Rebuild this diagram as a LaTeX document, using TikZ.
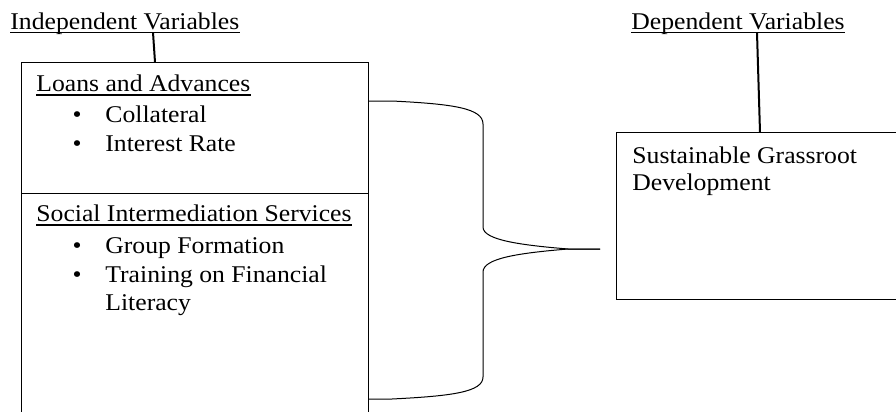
\documentclass[tikz,border=0pt]{standalone}
\usepackage{fontspec}
\setmainfont[FakeStretch=1.07]{Liberation Serif}
\usetikzlibrary{calc}

\begin{document}
\begin{tikzpicture}[x=0.5pt,y=-0.5pt,
  txt/.style={anchor=base west,inner sep=0pt,font=\fontsize{12}{14}\selectfont},
  dot/.style={txt,anchor=base},
  panel/.style={draw,line width=0.5pt,rectangle,inner sep=0pt,anchor=north west},
  uline/.style={line width=0.7pt},
  link/.style={line width=1pt},
  brace/.style={line width=0.5pt}]
\useasboundingbox (0,0) rectangle (896,412);
\clip (0,0) rectangle (896,412);
% boxes
\node[panel,minimum width=173.5pt,minimum height=65.5pt] (loans) at (21,62) {};
\node[panel,minimum width=173.5pt,minimum height=123.5pt] (social) at (21,193) {};
\node[panel,minimum width=152pt,minimum height=83.5pt] (grass) at (616,132) {};
% headings
\node[txt] (indep) at (10,29) {Independent Variables};
\draw[uline] ($(indep.base west)+(0,3.5)$) -- ($(indep.base east)+(0,3.5)$);
\node[txt] (dep) at (631,29) {Dependent Variables};
\draw[uline] ($(dep.base west)+(0,3.5)$) -- ($(dep.base east)+(0,3.5)$);
\coordinate (ia) at (153,32.5);
\coordinate (da) at (757,32.5);
\draw[link] (ia) -- ($(loans.north west)+(134,0)$);
\draw[link] (da) -- ($(grass.north west)+(144,0)$);
% loans and advances
\node[txt] (lhead) at (36,91) {Loans and Advances};
\draw[uline] ($(lhead.base west)+(0,4)$) -- ($(lhead.base east)+(0,4)$);
\node[dot] (b1) at (77,122) {\textbullet};
\node[txt] (coll) at (105,122) {Collateral};
\node[dot] (b2) at (77,151) {\textbullet};
\node[txt] (rate) at (105,151) {Interest Rate};
% social intermediation
\node[txt] (shead) at (36,221) {Social Intermediation Services};
\draw[uline] ($(shead.base west)+(0,4)$) -- ($(shead.base east)+(0,4)$);
\node[dot] (b3) at (77,253) {\textbullet};
\node[txt] (group) at (105,253) {Group Formation};
\node[dot] (b4) at (77,282) {\textbullet};
\node[txt] (train) at (105,282) {Training on Financial};
\node[txt] (lit) at (105,310) {Literacy};
% dependent
\node[txt] (sgd1) at (632,163) {Sustainable Grassroot};
\node[txt] (sgd2) at (632,190) {Development};
% bracket
\coordinate (btop) at (368,101);
\coordinate (bbot) at (368,399);
\coordinate (tip) at (600,249);
\draw[brace] (btop) -- (392,101) .. controls (452,104) and (483,108) .. (483,124)
  -- (483,227) .. controls (483,240) and (520,245) .. (568,249) -- (tip);
\draw[brace] (tip) -- (568,249) .. controls (520,253) and (483,258) .. (483,272)
  -- (483,377) .. controls (483,392) and (452,396) .. (392,399) -- (bbot);
\end{tikzpicture}
\end{document}
